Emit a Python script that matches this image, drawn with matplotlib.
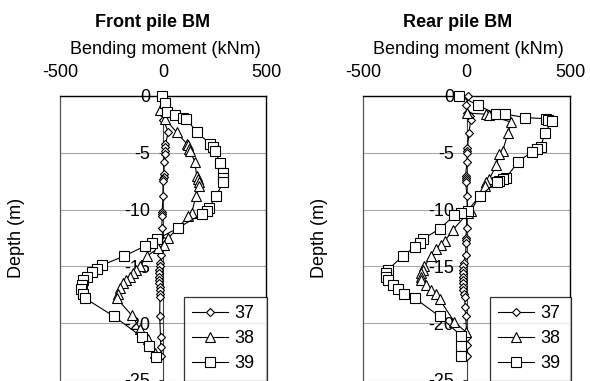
import matplotlib
matplotlib.use("Agg")
import matplotlib.pyplot as plt
from matplotlib.lines import Line2D

plt.rcParams["font.family"] = ["Liberation Sans", "DejaVu Sans"]
plt.rcParams["axes.unicode_minus"] = False

# ---- data (depth in m, bending moment in kNm) ----
series_labels = ["37", "38", "39"]
yticks = [0, -5, -10, -15, -20, -25]
xticks = [-500, 0, 500]

front_d37 = [-0.9, -1.5, -2.1, -3.2, -4.2, -4.5, -4.8, -5.1, -5.8, -6.9, -7.1, -7.3, -7.5, -8.8,
             -10.2, -10.4, -10.6, -11.6, -12.8, -14.0, -14.7, -15.0, -15.3, -15.6, -15.9, -16.2,
             -16.5, -16.8, -17.1, -17.4, -17.7, -19.4, -21.2, -22.1, -22.9]
front_m37 = [8, -6, 2, 26, 12, 10, 10, 8, 4, 6, 4, 2, 0, 0,
             -4, -6, -4, -6, 6, -10, -14, -16, -18, -18, -18, -18,
             -18, -16, -16, -16, -15, -16, -12, -12, -8]
front_d38 = [-1.2, -2.0, -3.2, -4.2, -4.35, -4.65, -4.85, -5.8, -7.0, -7.3, -7.6, -7.9, -8.8,
             -10.3, -10.6, -12.5, -13.1, -13.4, -14.1, -15.0, -15.3, -15.6, -15.9, -16.2, -16.5,
             -16.9, -17.4, -17.8, -19.3, -20.5, -21.4, -22.6]
front_m38 = [-15, 10, 66, 115, 123, 128, 131, 155, 163, 168, 173, 175, 160,
             139, 123, 26, 5, -23, -79, -112, -129, -146, -162, -178, -194,
             -210, -218, -225, -152, -112, -71, -39]
front_d39 = [0, -0.6, -1.4, -1.7, -1.9, -2.0, -3.2, -4.2, -4.5, -4.8, -5.9, -6.8, -7.2, -7.6,
             -8.8, -9.9, -10.1, -10.4, -11.6, -12.6, -12.9, -13.2, -14.1, -14.9, -15.2, -15.5,
             -15.9, -16.2, -16.6, -17.0, -17.4, -17.8, -19.4, -21.2, -22.0, -23.0]
front_m39 = [-6, 10, 21, 58, 97, 112, 165, 228, 241, 252, 277, 292, 292, 292,
             257, 223, 212, 188, 74, -28, -55, -87, -189, -298, -322, -346,
             -370, -387, -395, -400, -387, -379, -238, -103, -66, -34]

rear_d37 = [0, -0.8, -1.5, -1.8, -2.1, -3.3, -4.6, -4.8, -5.0, -5.8, -7.0, -7.2, -7.4, -7.6,
            -8.8, -10.1, -10.4, -11.6, -12.5, -12.7, -12.9, -14.0, -14.7, -15.0, -15.3, -15.6,
            -15.9, -16.2, -16.5, -16.8, -17.1, -17.4, -17.7, -18.6, -19.4, -21.2, -21.9, -22.9]
rear_m37 = [9, -4, 4, 15, 20, 12, 4, 4, 4, 2, -4, -4, -4, -4,
            2, 4, 0, 0, -2, -2, -2, -4, -14, -16, -18, -18,
            -18, -18, -16, -16, -16, -14, -8, -7, -4, 2, 4, 4]
rear_d38 = [-1.5, -1.6, -1.7, -2.3, -3.3, -4.8, -5.1, -6.1, -7.3, -7.6, -7.9, -10.1, -10.3,
            -11.8, -12.8, -13.1, -13.5, -14.1, -15.0, -15.3, -15.6, -15.9, -16.2, -16.6, -17.1,
            -17.4, -17.9, -19.9, -20.8]
rear_m38 = [2, 92, 111, 216, 200, 175, 159, 143, 111, 95, 87, 23, 6,
            -66, -106, -122, -146, -171, -203, -211, -219, -222, -219, -195, -171,
            -146, -130, -58, -1]
rear_d39 = [0, -0.8, -1.6, -1.6, -1.9, -2.0, -2.1, -2.2, -3.3, -4.5, -4.7, -4.9, -5.8, -7.2,
            -7.3, -7.5, -7.6, -8.8, -10.1, -10.3, -10.5, -11.7, -12.6, -12.9, -13.3, -14.1,
            -15.3, -15.6, -15.9, -16.2, -16.6, -17.0, -17.4, -17.8, -19.4, -21.1, -22.0, -22.9]
rear_m39 = [-34, 55, 143, 188, 285, 382, 393, 414, 377, 360, 340, 318, 248, 192,
            175, 159, 146, 63, 6, -26, -58, -130, -211, -227, -251, -308,
            -380, -388, -388, -380, -356, -332, -300, -250, -130, -26, -26, -26]

markers = ["D", "^", "s"]
msizes = [4.3, 6.8, 6.8]


def draw_panel(ax, title, xlabel_x, title_x, leg_x, data):
    for (d, m), mk, ms, lab in zip(data, markers, msizes, series_labels):
        ax.plot(m, d, color="black", lw=0.8, marker=mk, ms=ms, mfc="white",
                mec="black", mew=0.8, label=lab, zorder=3, clip_on=False)
    ax.set_xlim(-500, 500)
    ax.set_ylim(-25, 0)
    ax.set_xticks(xticks)
    ax.set_yticks(yticks)
    ax.xaxis.tick_top()
    ax.xaxis.set_label_position("top")
    ax.tick_params(axis="x", length=0, pad=11, labelsize=13)
    ax.tick_params(axis="y", direction="out", length=3, pad=6, labelsize=13, color="#404040")
    ax.spines["left"].set_position(("data", 0))
    ax.spines["left"].set_color("#404040")
    ax.spines["bottom"].set_visible(False)
    ax.spines["top"].set_linewidth(1.0)
    ax.spines["right"].set_linewidth(1.0)
    # plot-area border on the left side
    ax.add_line(Line2D([0, 0], [0, 1], transform=ax.transAxes, color="#555555",
                       lw=0.9, clip_on=False))
    ax.grid(axis="y", color="#a8a8a8", lw=0.8)
    ax.set_axisbelow(True)
    ax.set_xlabel("Bending moment (kNm)", fontsize=13)
    ax.xaxis.set_label_coords(xlabel_x, 1.162)
    ax.xaxis.label.set_va("center")
    ax.set_ylabel("Depth (m)", fontsize=13, va="center")
    ax.yaxis.set_label_coords(-0.21, 0.5)
    ax.set_title(title, fontsize=13, fontweight="bold", va="center", x=title_x, y=1.229)
    leg = ax.legend(loc="upper left", bbox_to_anchor=(leg_x, 0.0, 1.005 - leg_x, 0.292),
                    mode="expand", borderaxespad=0,
                    fontsize=13, frameon=True, fancybox=False, edgecolor="black",
                    handlelength=2.0, handletextpad=0.35, labelspacing=0.45, borderpad=0.45)
    leg.get_frame().set_linewidth(0.9)
    leg.set_zorder(5)


fig = plt.figure(figsize=(5.9, 3.81), dpi=100)
ax1 = fig.add_axes([60 / 590, 1 / 381, 206 / 590, 284 / 381])
ax2 = fig.add_axes([363 / 590, 1 / 381, 207 / 590, 284 / 381])

draw_panel(ax1, "Front pile BM", 0.51, 0.45, 0.602,
           [(front_d37, front_m37), (front_d38, front_m38), (front_d39, front_m39)])
draw_panel(ax2, "Rear pile BM", 0.51, 0.455, 0.613,
           [(rear_d37, rear_m37), (rear_d38, rear_m38), (rear_d39, rear_m39)])

fig.savefig("out.png", dpi=100)
